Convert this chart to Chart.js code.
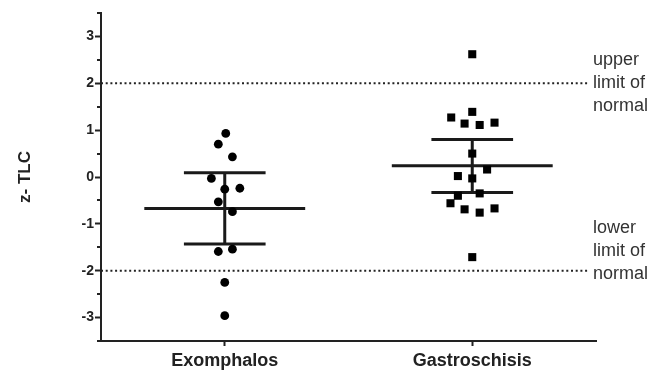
<!DOCTYPE html>
<html>
<head>
<meta charset="utf-8">
<script src="https://cdn.jsdelivr.net/npm/chart.js@4/dist/chart.umd.min.js"></script>
<style>
  body { margin: 0; background: #fff; }
  #wrap { width: 660px; height: 371px; }
</style>
</head>
<body>
<div id="wrap"><canvas id="chart" width="660" height="371"></canvas></div>
<script>
// groups on the x axis
const categories = ['Exomphalos', 'Gastroschisis'];

// z-TLC values per patient
const exomphalosValues = [0.93, 0.70, 0.43, -0.03, -0.26, -0.24, -0.53, -0.74, -1.59, -1.54, -2.25, -2.96];
const exomphalosJitter = [0.004, -0.026, 0.031, -0.054, 0, 0.061, -0.026, 0.031, -0.026, 0.031, 0, 0];

const gastroValues = [2.62, 1.39, 1.27, 1.14, 1.11, 1.16, 0.50, 0.16, 0.02, -0.03, -0.35, -0.40, -0.56, -0.69, -0.76, -0.67, -1.71];
const gastroJitter = [0, 0, -0.085, -0.031, 0.03, 0.09, 0, 0.06, -0.058, 0, 0.03, -0.058, -0.088, -0.031, 0.03, 0.09, 0];

// mean and spread bars
const groupMeans = [-0.67, 0.24];
const groupUpper = [0.09, 0.80];
const groupLower = [-1.43, -0.33];

// normal range
const normalLimits = [2, -2];
const yTicks = [-3, -2, -1, 0, 1, 2, 3];

const ink = '#1a1a1a';
const meanHalf = 0.325;
const capHalf = 0.165;

function jittered(values, jitter, pos) {
  return values.map((v, i) => ({ x: pos + jitter[i], y: v }));
}

// one broken line per group: mean, upper cap, lower cap, vertical
function summaryLine(i) {
  const c = i + 1;
  return [
    { x: c - meanHalf, y: groupMeans[i] }, { x: c + meanHalf, y: groupMeans[i] }, { x: c, y: null },
    { x: c - capHalf, y: groupUpper[i] }, { x: c + capHalf, y: groupUpper[i] }, { x: c, y: null },
    { x: c - capHalf, y: groupLower[i] }, { x: c + capHalf, y: groupLower[i] }, { x: c, y: null },
    { x: c, y: groupLower[i] }, { x: c, y: groupUpper[i] }
  ];
}

const datasets = [];

normalLimits.forEach(lim => {
  datasets.push({
    type: 'line',
    data: [{ x: 0.5, y: lim }, { x: 2.47, y: lim }],
    borderColor: '#222',
    borderWidth: 2,
    borderDash: [2, 2.7],
    pointRadius: 0
  });
});

datasets.push({
  type: 'scatter',
  label: categories[0],
  data: jittered(exomphalosValues, exomphalosJitter, 1),
  pointStyle: 'circle',
  pointRadius: 4.4,
  backgroundColor: '#000',
  borderWidth: 0
});
datasets.push({
  type: 'scatter',
  label: categories[1],
  data: jittered(gastroValues, gastroJitter, 2),
  pointStyle: 'rect',
  pointRadius: 5.7,
  backgroundColor: '#000',
  borderWidth: 0
});

[0, 1].forEach(i => {
  datasets.push({
    type: 'line',
    data: summaryLine(i),
    borderColor: ink,
    borderWidth: 3,
    spanGaps: false,
    pointRadius: 0
  });
});

// small ticks between the numbered ones, and the side notes
const extras = {
  id: 'extras',
  afterDraw(chart) {
    const ctx = chart.ctx;
    const y = chart.scales.y;
    ctx.save();
    ctx.strokeStyle = '#222';
    ctx.lineWidth = 2;
    for (let v = -3.5; v <= 3.5; v += 1) {
      const py = Math.round(y.getPixelForValue(v));
      ctx.beginPath();
      ctx.moveTo(y.right - 4, py);
      ctx.lineTo(y.right, py);
      ctx.stroke();
    }
    ctx.fillStyle = '#333';
    ctx.font = '18px "Liberation Sans", Arial, sans-serif';
    ctx.textBaseline = 'alphabetic';
    const x0 = 593;
    ['upper', 'limit of', 'normal'].forEach((t, k) => ctx.fillText(t, x0, 65 + k * 23));
    ['lower', 'limit of', 'normal'].forEach((t, k) => ctx.fillText(t, x0, 233 + k * 23));
    ctx.restore();
  }
};

new Chart(document.getElementById('chart'), {
  data: { datasets },
  options: {
    responsive: false,
    animation: false,
    layout: { padding: { top: 13, right: 64, left: 0, bottom: 0 } },
    plugins: { legend: { display: false }, tooltip: { enabled: false } },
    scales: {
      x: {
        type: 'linear',
        min: 0.5,
        max: 2.5,
        afterBuildTicks: s => { s.ticks = [{ value: 1 }, { value: 2 }]; },
        afterFit: s => { s.height = 30; },
        grid: { drawOnChartArea: false, tickLength: 5, tickWidth: 2, tickColor: '#222' },
        border: { color: '#222', width: 2 },
        ticks: {
          padding: 4,
          color: '#222',
          font: { family: '"Liberation Sans", Arial, sans-serif', size: 18, weight: 'bold' },
          callback: v => categories[v - 1]
        }
      },
      y: {
        min: -3.5,
        max: 3.5,
        afterBuildTicks: s => { s.ticks = yTicks.map(v => ({ value: v })); },
        afterFit: s => { s.width = 101; },
        grid: { drawOnChartArea: false, tickLength: 6, tickWidth: 2, tickColor: '#222' },
        border: { color: '#222', width: 2 },
        ticks: {
          padding: 1,
          color: '#222',
          font: { family: '"Liberation Sans", Arial, sans-serif', size: 14, weight: 'bold' }
        },
        title: {
          display: true,
          text: 'z- TLC',
          color: '#222',
          padding: { top: 15, bottom: 0 },
          font: { family: '"Liberation Sans", Arial, sans-serif', size: 17, weight: 'bold' }
        }
      }
    }
  },
  plugins: [extras]
});
</script>
</body>
</html>
